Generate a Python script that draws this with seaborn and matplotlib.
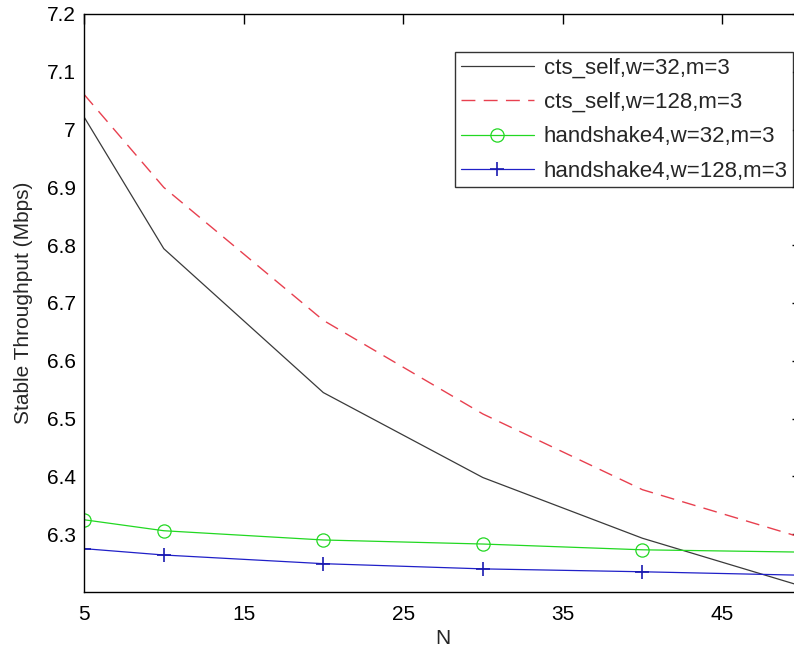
import numpy as np
import seaborn as sns
import matplotlib.pyplot as plt
from matplotlib.ticker import FormatStrFormatter

# data
N = [5, 10, 20, 30, 40, 50]
cts_w32 = [7.022, 6.794, 6.545, 6.398, 6.293, 6.210]
cts_w128 = [7.061, 6.900, 6.670, 6.508, 6.377, 6.294]
hs_w32 = [6.325, 6.306, 6.290, 6.283, 6.273, 6.269]
hs_w128 = [6.275, 6.264, 6.249, 6.240, 6.235, 6.229]

labels = ['cts_self,w=32,m=3', 'cts_self,w=128,m=3',
          'handshake4,w=32,m=3', 'handshake4,w=128,m=3']

sns.set_style('white')
plt.rcParams['font.family'] = ['Liberation Sans', 'DejaVu Sans']

fig = plt.figure(figsize=(7.94, 6.52), dpi=100)
# axes runs slightly past the right edge, as in the cropped original
ax = fig.add_axes([84 / 794, 60 / 652, 718 / 794, 578 / 652])

sns.lineplot(x=N, y=cts_w32, ax=ax, color='#3a3a3a', lw=0.9, label=labels[0])
sns.lineplot(x=N, y=cts_w128, ax=ax, color='#e8404f', lw=1.0,
             dashes=False, linestyle=(0, (10, 6)), label=labels[1])
sns.lineplot(x=N, y=hs_w32, ax=ax, color='#22d822', lw=0.9, marker='o',
             markersize=9.5, markerfacecolor='none', markeredgecolor='#22d822',
             markeredgewidth=0.9, label=labels[2])
sns.lineplot(x=N, y=hs_w128, ax=ax, color='#2020c8', lw=0.9, marker='+',
             markersize=10, markeredgewidth=1.2, markeredgecolor='#1a1ab0',
             label=labels[3])

ax.set_xlim(5, 50)
ax.set_ylim(6.2, 7.2)
ax.set_xticks([5, 15, 25, 35, 45])
ax.set_yticks(np.round(np.arange(6.3, 7.21, 0.1), 1))
ax.yaxis.set_major_formatter(FormatStrFormatter('%g'))

for s in ax.spines.values():
    s.set_color('black')
    s.set_linewidth(1.0)
ax.tick_params(direction='in', length=7, width=1, colors='black',
               top=True, right=True, labelsize=15)
ax.tick_params(axis='x', pad=9)
ax.tick_params(axis='y', pad=6)

ax.set_xlabel('N', fontsize=15, labelpad=4)
ax.set_ylabel('Stable Throughput (Mbps)', fontsize=15, labelpad=10)

leg = ax.legend(loc='upper left', bbox_to_anchor=(0.5167, 0.934),
                borderaxespad=0, fontsize=16, frameon=True, fancybox=False,
                handlelength=3.3, handletextpad=0.45, labelspacing=0.6,
                borderpad=0.25)
leg.get_frame().set_edgecolor('black')
leg.get_frame().set_linewidth(1.0)

fig.savefig('out.png', dpi=100)
